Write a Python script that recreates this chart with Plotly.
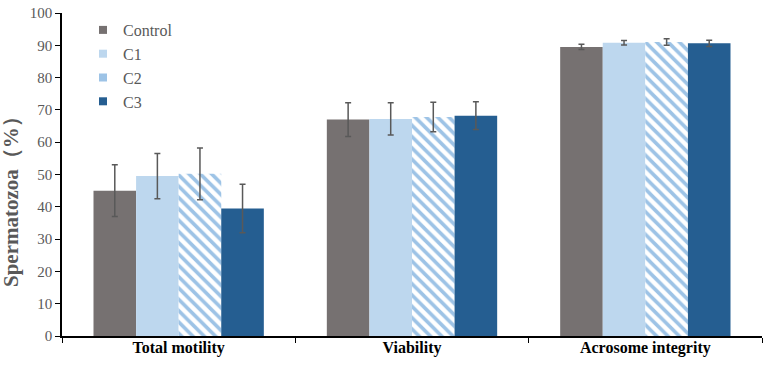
import plotly.graph_objects as go

categories = ["Total motility", "Viability", "Acrosome integrity"]
series_names = ["Control", "C1", "C2", "C3"]
values = {
    "Control": [45.0, 67.0, 89.5],
    "C1": [49.5, 67.2, 90.8],
    "C2": [50.2, 67.8, 91.0],
    "C3": [39.5, 68.2, 90.6],
}
errors = {
    "Control": [8.0, 5.2, 0.8],
    "C1": [7.0, 5.0, 0.7],
    "C2": [8.0, 4.6, 1.0],
    "C3": [7.5, 4.3, 1.0],
}
y_ticks = [0, 10, 20, 30, 40, 50, 60, 70, 80, 90, 100]
y_title = "Spermatozoa（%）"

colors = {"Control": "#767171", "C1": "#BDD7EE", "C2": "#FFFFFF", "C3": "#255E91"}
legend_colors = {"Control": "#767171", "C1": "#BDD7EE", "C2": "#9DC3E6", "C3": "#255E91"}
SERIF = "Liberation Serif, Times New Roman, serif"

fig = go.Figure()
for name in series_names:
    marker = dict(color=colors[name], line=dict(width=0))
    if name == "C2":
        marker = dict(color="#FFFFFF", line=dict(width=0),
                      pattern=dict(shape="\\", fgcolor="#9DC3E6", bgcolor="#FFFFFF",
                                   size=8, solidity=0.45, fillmode="replace"))
    fig.add_trace(go.Bar(
        name=name, x=categories, y=values[name], marker=marker, showlegend=False,
        error_y=dict(type="data", array=errors[name], visible=True,
                     color="#595959", thickness=1.5, width=3),
    ))

# legend entries (small squares)
for name in series_names:
    fig.add_trace(go.Scatter(
        x=[None], y=[None], mode="markers", name=name,
        marker=dict(symbol="square", size=8, color=legend_colors[name]),
    ))

fig.update_layout(
    width=767, height=368,
    margin=dict(l=62, r=5, t=8, b=32),
    paper_bgcolor="white", plot_bgcolor="white",
    barmode="group", bargap=0.27, bargroupgap=0,
    font=dict(family=SERIF, color="#595959", size=14),
    showlegend=True,
    legend=dict(x=0.03, y=1.0, xanchor="left", yanchor="top",
                font=dict(family=SERIF, size=16, color="#595959"),
                itemwidth=30, tracegroupgap=0, bgcolor="rgba(0,0,0,0)",
                traceorder="normal"),
    xaxis=dict(showline=True, linecolor="black", linewidth=1.5,
               ticks="outside", ticklen=5, tickcolor="black",
               tickmode="array", tickvals=[-0.5, 0.5, 1.5, 2.5], ticktext=["", "", "", ""],
               range=[-0.5, 2.5], showgrid=False, zeroline=False),
    xaxis2=dict(overlaying="x", matches=None, range=[-0.5, 2.5], showgrid=False,
                tickmode="array", tickvals=[0, 1, 2], ticktext=categories,
                tickfont=dict(family=SERIF, size=16, color="black", weight="bold"),
                side="bottom", showline=False, ticks=""),
    yaxis=dict(range=[0, 100], tickvals=y_ticks, showline=True, linecolor="black",
               linewidth=1.5, ticks="outside", ticklen=5, tickcolor="black",
               showgrid=False, zeroline=False,
               tickfont=dict(family=SERIF, size=15, color="#595959")),
    annotations=[dict(text=y_title, textangle=-90, xref="paper", yref="paper",
                      x=-0.073, y=0.433, xanchor="center", yanchor="middle",
                      showarrow=False,
                      font=dict(family=SERIF, size=21, color="#595959", weight="bold"))],
)
# invisible trace to activate the label axis
fig.add_trace(go.Scatter(x=categories, y=[0, 0, 0], xaxis="x2", mode="markers",
                         marker=dict(opacity=0), showlegend=False, hoverinfo="skip"))

fig.write_html("out.html")
